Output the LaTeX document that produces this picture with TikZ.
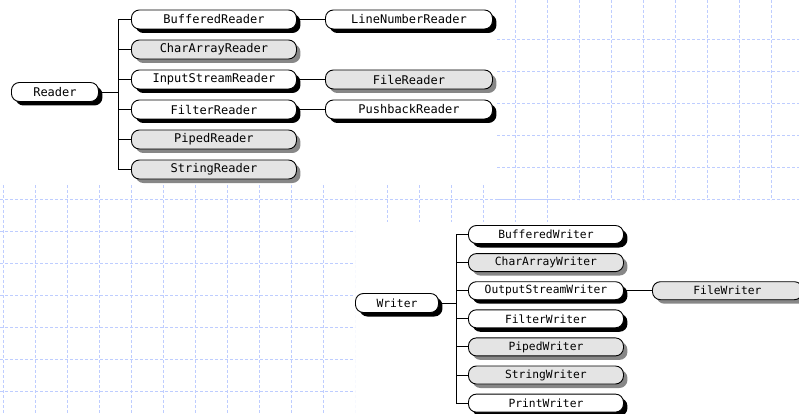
\documentclass[tikz,border=0pt]{standalone}
\usepackage{fontspec}
\setmonofont{DejaVu Sans Mono}
\usetikzlibrary{shadows,positioning}

\definecolor{gridblue}{RGB}{190,205,255}
\definecolor{clsgray}{RGB}{228,228,228}
\definecolor{shadegray}{RGB}{135,135,135}

\tikzset{
  cls/.style={draw, line width=0.9pt, rounded corners=8pt, inner sep=0pt,
    anchor=west, minimum height=19pt},
  wcls/.style={cls, fill=white,
    drop shadow={shadow xshift=4pt, shadow yshift=-4pt, fill=black, opacity=1}},
  gcls/.style={cls, fill=clsgray,
    drop shadow={shadow xshift=4pt, shadow yshift=-4pt, fill=shadegray, opacity=1}},
  bgrid/.style={draw=gridblue, line width=0.5pt, dash pattern=on 3pt off 2pt},
  link/.style={line width=0.9pt}
}

\begin{document}
\begin{tikzpicture}[x=1pt, y=-1pt]
  \useasboundingbox (0,0) rectangle (799,414);

  % background grid, in patches
  \begin{scope}
    \clip (0,185) rectangle (355,414);
    \foreach \x in {3,35,...,355} \draw[bgrid] (\x,185) -- (\x,414);
    \foreach \y in {199,231,...,414} \draw[bgrid] (0,\y) -- (355,\y);
  \end{scope}
  \begin{scope}
    \clip (355,185) rectangle (560,222);
    \foreach \x in {387,419,...,560} \draw[bgrid] (\x,185) -- (\x,222);
    \draw[bgrid] (355,199) -- (560,199);
  \end{scope}
  \begin{scope}
    \clip (497,0) rectangle (799,200);
    \foreach \x in {515,547,...,799} \draw[bgrid] (\x,0) -- (\x,200);
    \foreach \y in {39,71,...,200} \draw[bgrid] (497,\y) -- (799,\y);
  \end{scope}

  % Reader tree
  \begin{scope}[font=\ttfamily\fontsize{12}{14}\selectfont]
    \node[wcls, minimum width=87pt]  (reader)  at (11,92)    {Reader};
    \node[wcls, minimum width=165pt] (bufrd)   at (131,19.5)  {BufferedReader};
    \node[gcls, minimum width=165pt] (chrd)    at (131,49.5)  {CharArrayReader};
    \node[wcls, minimum width=165pt] (isrd)    at (131,79.5)  {InputStreamReader};
    \node[wcls, minimum width=165pt] (filtrd)  at (131,109.5) {FilterReader};
    \node[gcls, minimum width=165pt] (pipedrd) at (131,139.5) {PipedReader};
    \node[gcls, minimum width=165pt] (strrd)   at (131,169.5) {StringReader};
    \node[wcls, minimum width=167pt] (linerd)  at (325,19.5)  {LineNumberReader};
    \node[gcls, minimum width=167pt] (filerd)  at (325,79.5)  {FileReader};
    \node[wcls, minimum width=167pt] (pushrd)  at (325,109.5) {PushbackReader};
  \end{scope}
  \coordinate (rtrunk) at (118,0);

  \draw[link] (bufrd.west) -- (bufrd.west -| rtrunk) -- (strrd.west -| rtrunk) -- (strrd.west);
  \foreach \n in {chrd,isrd,filtrd,pipedrd}
    \draw[link] (\n.west) -- (\n.west -| rtrunk);
  \draw[link] (reader.east) -- (reader.east -| rtrunk);
  \draw[link] (bufrd.east) -- (linerd.west);
  \draw[link] (isrd.east) -- (filerd.west);
  \draw[link] (filtrd.east) -- (pushrd.west);

  % Writer tree
  \begin{scope}[font=\ttfamily\fontsize{11.3}{13}\selectfont]
    \node[wcls, minimum width=83pt]  (writer)  at (355,303)   {Writer};
    \node[wcls, minimum width=155pt, minimum height=18pt] (bufwr)   at (468,234.5) {BufferedWriter};
    \node[gcls, minimum width=155pt, minimum height=18pt] (chwr)    at (468,262.6) {CharArrayWriter};
    \node[wcls, minimum width=155pt, minimum height=18pt] (oswr)    at (468,290.7) {OutputStreamWriter};
    \node[wcls, minimum width=155pt, minimum height=18pt] (filtwr)  at (468,318.8) {FilterWriter};
    \node[gcls, minimum width=155pt, minimum height=18pt] (pipedwr) at (468,346.9) {PipedWriter};
    \node[gcls, minimum width=155pt, minimum height=18pt] (strwr)   at (468,375.0) {StringWriter};
    \node[wcls, minimum width=155pt, minimum height=18pt] (printwr) at (468,403.1) {PrintWriter};
    \node[gcls, minimum width=150pt, minimum height=18pt] (filewr)  at (652,290.7) {FileWriter};
  \end{scope}
  \coordinate (wtrunk) at (456,0);

  \draw[link] (bufwr.west) -- (bufwr.west -| wtrunk) -- (printwr.west -| wtrunk) -- (printwr.west);
  \foreach \n in {chwr,oswr,filtwr,pipedwr,strwr}
    \draw[link] (\n.west) -- (\n.west -| wtrunk);
  \draw[link] (writer.east) -- (writer.east -| wtrunk);
  \draw[link] (oswr.east) -- (filewr.west);
\end{tikzpicture}
\end{document}
